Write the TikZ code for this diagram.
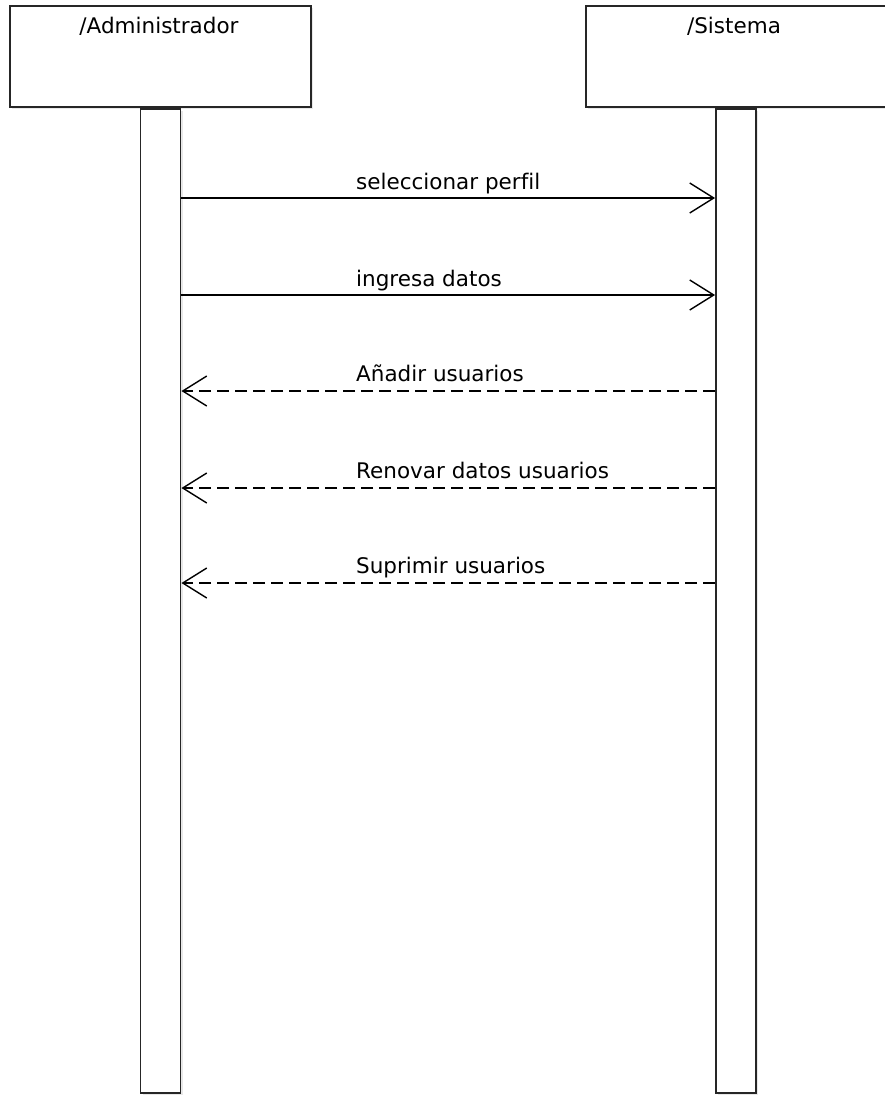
\documentclass[tikz,border=0pt]{standalone}
\usepackage{fontspec}
\setmainfont[Ligatures={NoCommon}]{DejaVu Sans}
\usetikzlibrary{arrows.meta,shadows}
\begin{document}
\begin{tikzpicture}[x=1pt,y=-1pt,
  font=\fontsize{21.5}{25}\selectfont,
  softshadow/.style={drop shadow={opacity=0.18,shadow xshift=2pt,shadow yshift=-2pt}},
  lifebox/.style={draw=black!85,line width=1.9pt,fill=white,rectangle,inner sep=0pt,
    minimum width=#1,minimum height=101pt,softshadow},
  actbar/.style={draw=black!85,line width=1.9pt,fill=white,rectangle,inner sep=0pt,
    minimum width=40pt,minimum height=984pt,softshadow},
  msgcall/.style={line width=1.5pt,-{Straight Barb[length=24pt,width=30pt,line width=1.4pt]}},
  msgreply/.style={msgcall,dash pattern=on 12pt off 6pt},
  msglabel/.style={anchor=base west,inner sep=0pt}]
  \useasboundingbox (0,0) rectangle (884,1095);

  % lifeline heads
  \node[lifebox=301pt] (admin) at (160.5,56.5) {};
  \node[lifebox=301pt] (sys) at (736.5,56.5) {};
  \node[anchor=base,inner sep=0pt] (admint) at (159,33) {/Administrador};
  \node[anchor=base,inner sep=0pt] (syst) at (734,33) {/Sistema};

  % activation bars
  \node[actbar,anchor=north] (adminbar) at (admin.south) {};
  \node[actbar,anchor=north] (sysbar) at (sys.south -| 736,0) {};

  % message heights
  \coordinate (m1) at (0,198);
  \coordinate (m2) at (0,295);
  \coordinate (m3) at (0,391);
  \coordinate (m4) at (0,488);
  \coordinate (m5) at (0,583);

  % calls
  \draw[msgcall] (adminbar.east |- m1) -- (sysbar.west |- m1);
  \node[msglabel] (l1) at (356,189) {seleccionar perfil};
  \draw[msgcall] (adminbar.east |- m2) -- (sysbar.west |- m2);
  \node[msglabel] (l2) at (356,286) {ingresa datos};

  % replies
  \draw[msgreply] (sysbar.west |- m3) -- (adminbar.east |- m3);
  \node[msglabel] (l3) at (356,381) {Añadir usuarios};
  \draw[msgreply] (sysbar.west |- m4) -- (adminbar.east |- m4);
  \node[msglabel] (l4) at (356,478) {Renovar datos usuarios};
  \draw[msgreply] (sysbar.west |- m5) -- (adminbar.east |- m5);
  \node[msglabel] (l5) at (356,573) {Suprimir usuarios};
\end{tikzpicture}
\end{document}
